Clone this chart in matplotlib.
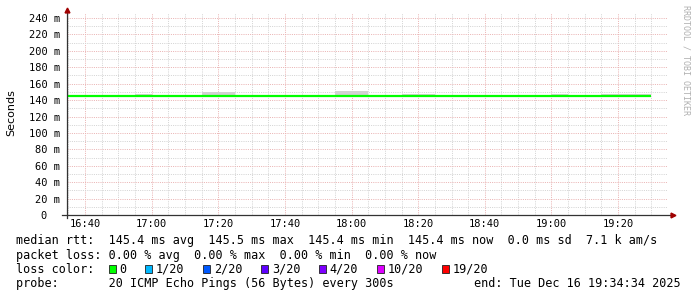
import numpy as np
import matplotlib
matplotlib.use("Agg")
import matplotlib.pyplot as plt
from matplotlib.patches import Rectangle

# smokeping style graph, 3 hours, 300s steps
W, H = 697, 297

# time in minutes since midnight
t_start = 16 * 60 + 34 + 34 / 60.0
t_end = 19 * 60 + 34 + 34 / 60.0
slot_edges = np.arange(16 * 60 + 30, 19 * 60 + 31, 5)  # 16:30 .. 19:30

# median rtt per 5 min slot (ms)
median = [145.4, 145.4, 145.4, 145.4, 145.4, 145.5, 145.4, 145.4, 145.4, 145.4,
          145.4, 145.4, 145.4, 145.4, 145.4, 145.4, 145.4, 145.5, 145.4, 145.4,
          145.4, 145.4, 145.4, 145.4, 145.4, 145.4, 145.4, 145.4, 145.4, 145.4,
          145.4, 145.4, 145.4, 145.4, 145.4, 145.4]
# smoke (spread of the 20 pings) upper / lower
smoke_hi = [145.9, 145.9, 145.9, 145.9, 145.9, 147.4, 145.9, 145.9, 145.9, 149.5,
            149.5, 145.9, 145.9, 145.9, 145.9, 145.9, 145.9, 151.5, 151.5, 145.9,
            145.9, 147.4, 147.4, 145.9, 145.9, 145.9, 145.9, 145.9, 145.9, 145.9,
            147.4, 145.9, 145.9, 146.9, 146.9, 146.9]
smoke_lo = [144.9] * 36

y_ticks = [0, 20, 40, 60, 80, 100, 120, 140, 160, 180, 200, 220, 240]
y_labels = ["0  ", "20 m", "40 m", "60 m", "80 m", "100 m", "120 m", "140 m",
            "160 m", "180 m", "200 m", "220 m", "240 m"]
x_ticks = [16 * 60 + 40, 17 * 60, 17 * 60 + 20, 17 * 60 + 40, 18 * 60,
           18 * 60 + 20, 18 * 60 + 40, 19 * 60, 19 * 60 + 20]
x_labels = ["16:40", "17:00", "17:20", "17:40", "18:00", "18:20", "18:40",
            "19:00", "19:20"]

loss_labels = ["0", "1/20", "2/20", "3/20", "4/20", "10/20", "19/20"]
loss_colors = ["#00ff00", "#00b8ff", "#0059ff", "#5e00ff", "#7e00ff",
               "#dd00ff", "#ff0000"]

legend_lines = [
    "median rtt:  145.4 ms avg  145.5 ms max  145.4 ms min  145.4 ms now  0.0 ms sd  7.1 k am/s",
    "packet loss: 0.00 % avg  0.00 % max  0.00 % min  0.00 % now",
    "loss color:",
    "probe:       20 ICMP Echo Pings (56 Bytes) every 300s",
]
end_text = "end: Tue Dec 16 19:34:34 2025"

MONO = "DejaVu Sans Mono"

fig = plt.figure(figsize=(W / 100, H / 100), dpi=100)
fig.patch.set_facecolor("white")

# plot area in pixels
px_l, px_r, px_t, px_b = 67, 666.6, 13, 215
ax = fig.add_axes([px_l / W, 1 - px_b / H, (px_r - px_l) / W, (px_b - px_t) / H])
ax.set_xlim(t_start, t_end)
ax.set_ylim(0, (px_b - px_t) / ((215 - 18) / 240.0))

# grid
ax.set_xticks(x_ticks)
ax.set_xticks(np.arange(16 * 60 + 35, 19 * 60 + 35, 5), minor=True)
ax.set_yticks(y_ticks)
ax.set_yticks(np.arange(10, 250, 20), minor=True)
ax.grid(which="minor", color="#d4d4d4", linestyle=(0, (1, 1.2)), linewidth=0.72)
ax.grid(which="major", color="#eab4b4", linestyle=(0, (1, 1.2)), linewidth=0.72)
ax.set_axisbelow(True)

ax.set_xticklabels(x_labels, family=MONO, fontsize=7.5)
ax.set_yticklabels(y_labels, family=MONO, fontsize=7.5)
ax.tick_params(which="both", length=0)
ax.tick_params(axis="y", pad=5)
ax.tick_params(axis="x", pad=3)
for s in ax.spines.values():
    s.set_visible(False)

# smoke and median line
ax.stairs(smoke_hi, slot_edges, baseline=smoke_lo, fill=True,
          color="#d2d2d2", linewidth=0, zorder=2)
ax.stairs(median, slot_edges, baseline=None, color="#00ff00",
          linewidth=1.6, zorder=3)

# axes with arrows
ax.plot([-5 / (px_r - px_l), 1 + 5 / (px_r - px_l)], [0, 0], color="#333333",
        lw=0.9, transform=ax.transAxes, clip_on=False, zorder=4)
ax.plot([0, 0], [-3 / (px_b - px_t), 1 + 2 / (px_b - px_t)], color="#333333",
        lw=0.9, transform=ax.transAxes, clip_on=False, zorder=4)
ax.plot([0], [1 + 3 / (px_b - px_t)], marker="^", color="#a00000", ms=3.5,
        transform=ax.transAxes, clip_on=False, zorder=5)
ax.plot([1 + 6 / (px_r - px_l)], [0], marker=">", color="#a00000", ms=3.5,
        transform=ax.transAxes, clip_on=False, zorder=5)

fig.text(11 / W, 1 - 113 / H, "Seconds", rotation=90, ha="center", va="center",
         fontsize=8, family="DejaVu Sans")
fig.text(686 / W, 1 - 60 / H, "RRDTOOL / TOBI OETIKER", rotation=270,
         ha="center", va="center", fontsize=6, color="#b0b0b0", family=MONO)

# legend
line_y = [240.7, 255.0, 269.3, 283.5]
for txt, yy in zip(legend_lines, line_y):
    fig.text(16 / W, 1 - yy / H, txt, ha="left", va="center", fontsize=8.5,
             family=MONO)
fig.text(681 / W, 1 - line_y[3] / H, end_text, ha="right", va="center",
         fontsize=8.5, family=MONO)

cw = 7.1
x = 108.5
for lab, col in zip(loss_labels, loss_colors):
    fig.patches.append(Rectangle((x / W, 1 - (line_y[2] + 4) / H), 7 / W, 8 / H,
                                 transform=fig.transFigure, facecolor=col,
                                 edgecolor="#202020", linewidth=0.6))
    lx = x + 11
    fig.text(lx / W, 1 - line_y[2] / H, lab, ha="left", va="center",
             fontsize=8.5, family=MONO)
    x = lx + len(lab) * cw + 18.5

fig.savefig("out.png", dpi=100)
